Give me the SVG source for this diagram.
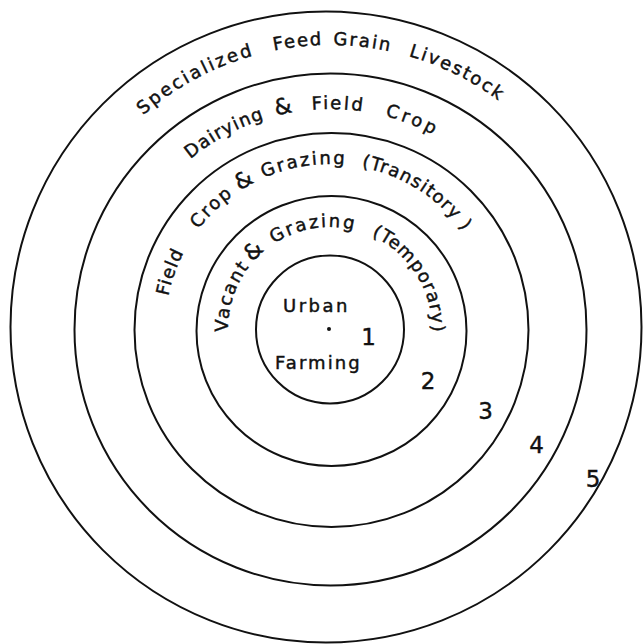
<svg xmlns="http://www.w3.org/2000/svg" xmlns:xlink="http://www.w3.org/1999/xlink" width="643" height="644" viewBox="0 0 643 644">
<style>
.ring{fill:none;stroke:#111;stroke-width:2}
.lbl{font-family:"DejaVu Sans","Liberation Sans",sans-serif;font-size:18px;fill:#111;stroke:#111;stroke-width:0.45}
.amp{font-size:22px}
.num{font-family:"DejaVu Sans","Liberation Sans",sans-serif;font-size:23px;fill:#111;stroke:#111;stroke-width:0.4;text-anchor:middle}
</style>
<defs>
<path id="p5" d="M84.05,471 A284,284 0 1 1 575.95,471"/>
<path id="p4" d="M139.47,439 A220,220 0 1 1 520.53,439"/>
<path id="p3" d="M187.11,411.5 A165,165 0 1 1 472.89,411.5"/>
<path id="p2" d="M241.67,380 A102,102 0 1 1 418.33,380"/>
</defs>
<rect width="643" height="644" fill="#fff"/>
<g id="zone5">
<circle class="ring" cx="326" cy="327" r="315.5"/>
<text class="lbl" letter-spacing="2.4"><textPath xlink:href="#p5" startOffset="390.6">Specialized</textPath></text>
<text class="lbl" letter-spacing="1.6"><textPath xlink:href="#p5" startOffset="538.3">Feed</textPath></text>
<text class="lbl" letter-spacing="1.9"><textPath xlink:href="#p5" startOffset="597.8">Grain</textPath></text>
<text class="lbl" letter-spacing="2"><textPath xlink:href="#p5" startOffset="674.1">Livestock</textPath></text>
<text class="num" x="593" y="487">5</text>
</g>
<g id="zone4">
<circle class="ring" cx="330.5" cy="329.5" r="256"/>
<text class="lbl" letter-spacing="1.2"><textPath xlink:href="#p4" startOffset="309.1">Dairying</textPath></text>
<text class="lbl amp"><textPath xlink:href="#p4" startOffset="406">&amp;</textPath></text>
<text class="lbl" letter-spacing="2.2"><textPath xlink:href="#p4" startOffset="442.3">Field</textPath></text>
<text class="lbl" letter-spacing="3.2"><textPath xlink:href="#p4" startOffset="516.1">Crop</textPath></text>
<text class="num" x="536.5" y="453">4</text>
</g>
<g id="zone3">
<circle class="ring" cx="331.5" cy="330" r="197"/>
<text class="lbl" letter-spacing="1.2"><textPath xlink:href="#p3" startOffset="119.2">Field</textPath></text>
<text class="lbl" letter-spacing="2.1"><textPath xlink:href="#p3" startOffset="193.2">Crop</textPath></text>
<text class="lbl amp"><textPath xlink:href="#p3" startOffset="250">&amp;</textPath></text>
<text class="lbl" letter-spacing="2.2"><textPath xlink:href="#p3" startOffset="277">Grazing</textPath></text>
<text class="lbl" letter-spacing="1.2"><textPath xlink:href="#p3" startOffset="377">(Transitory )</textPath></text>
<text class="num" x="485.5" y="419">3</text>
</g>
<g id="zone2">
<circle class="ring" cx="331.5" cy="331" r="135"/>
<text class="lbl" letter-spacing="1.6"><textPath xlink:href="#p2" startOffset="50.4">Vacant</textPath></text>
<text class="lbl amp"><textPath xlink:href="#p2" startOffset="125.5">&amp;</textPath></text>
<text class="lbl" letter-spacing="2.2"><textPath xlink:href="#p2" startOffset="154">Grazing</textPath></text>
<text class="lbl" letter-spacing="1.06"><textPath xlink:href="#p2" startOffset="256">(Temporary)</textPath></text>
<text class="num" x="428" y="389">2</text>
</g>
<g id="zone1">
<circle class="ring" cx="330" cy="329.5" r="74"/>
<circle cx="329" cy="329" r="2" fill="#111"/>
<text class="lbl" x="283" y="312" letter-spacing="2.5">Urban</text>
<text class="lbl" x="275" y="369" letter-spacing="2.1">Farming</text>
<text class="num" x="368.5" y="345">1</text>
</g>
</svg>
